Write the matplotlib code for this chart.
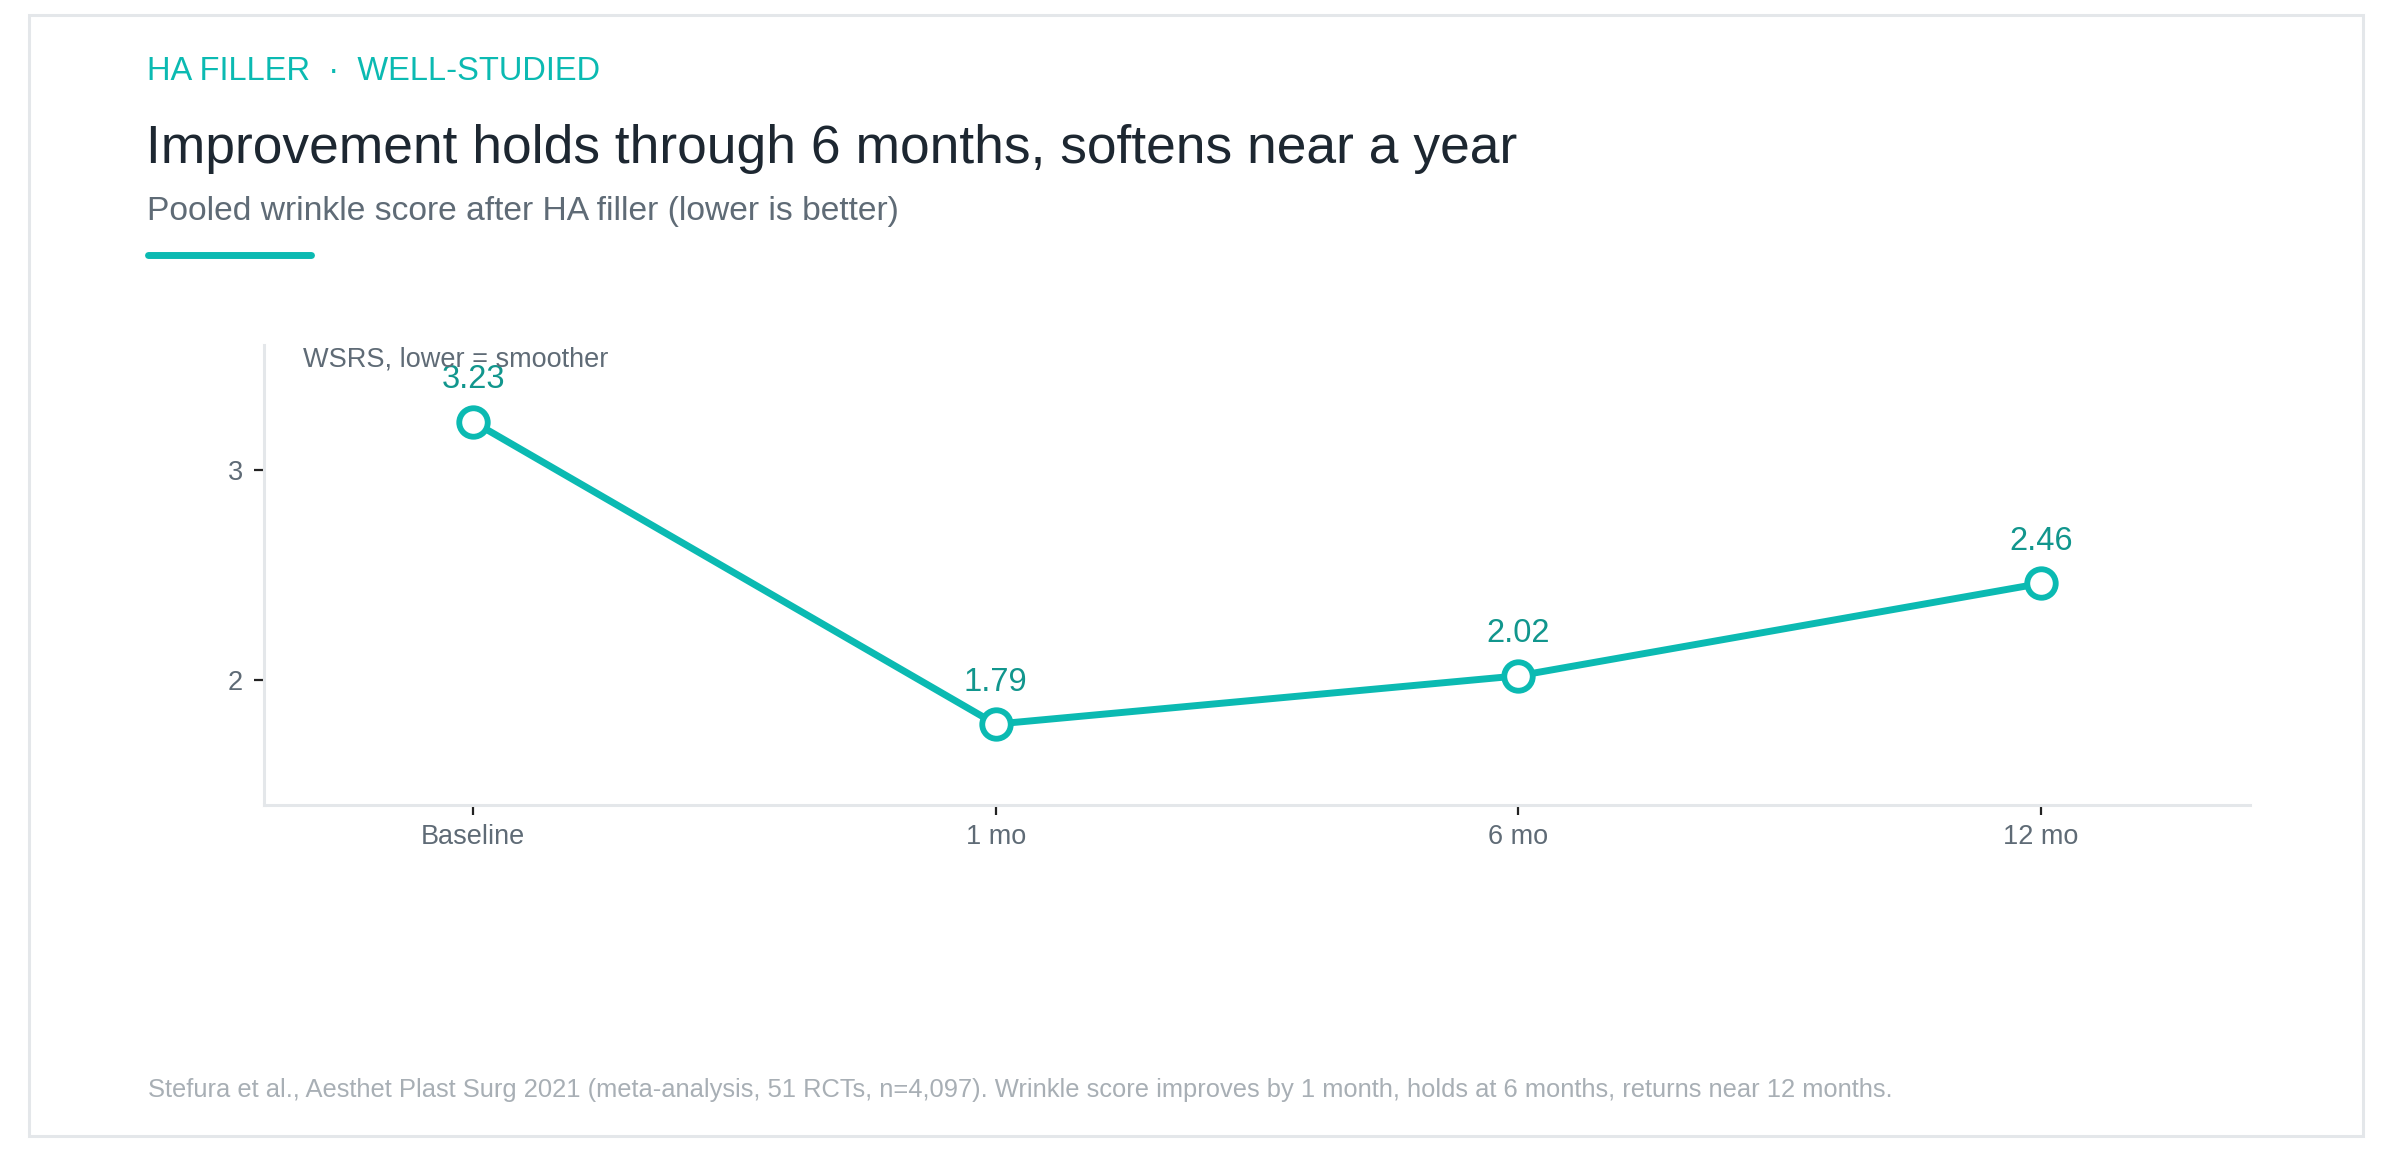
import matplotlib.pyplot as plt
from matplotlib.patches import Rectangle
from matplotlib.lines import Line2D

plt.rcParams['font.family'] = ['Liberation Sans', 'DejaVu Sans']

# data
timepoints = ['Baseline', '1 mo', '6 mo', '12 mo']
wsrs_score = [3.23, 1.79, 2.02, 2.46]
y_ticks = [2, 3]

TEAL = '#0bbab2'
TEAL_DARK = '#11968d'
INK = '#1d2731'
GREY = '#5f6b76'
LIGHT = '#a8afb5'
RULE = '#e4e7ea'

W, H = 2392, 1150
fig = plt.figure(figsize=(W / 100, H / 100), dpi=100)


def fx(px):
    return px / W


def fy(py):
    return 1 - py / H


# card border
fig.patches.append(Rectangle((fx(29), fy(1136)), fx(2363) - fx(29), fy(15) - fy(1136),
                             transform=fig.transFigure, fill=False,
                             edgecolor=RULE, linewidth=2.2))

# header
fig.text(fx(147), fy(80), 'HA FILLER  \u00b7  WELL-STUDIED', color=TEAL, fontsize=23.5,
         va='baseline')
fig.text(fx(146), fy(163), 'Improvement holds through 6 months, softens near a year',
         color=INK, fontsize=38.4, va='baseline')
fig.text(fx(147), fy(220), 'Pooled wrinkle score after HA filler (lower is better)',
         color=GREY, fontsize=24.2, va='baseline')
fig.lines.append(Line2D([fx(148), fx(311)], [fy(255), fy(255)], transform=fig.transFigure,
                        color=TEAL, linewidth=5, solid_capstyle='round'))

# footer
fig.text(fx(148), fy(1097),
         'Stefura et al., Aesthet Plast Surg 2021 (meta-analysis, 51 RCTs, n=4,097). '
         'Wrinkle score improves by 1 month, holds at 6 months, returns near 12 months.',
         color=LIGHT, fontsize=18.4, va='baseline')

# chart
ax = fig.add_axes([fx(264), fy(805), fx(2250) - fx(264), fy(345) - fy(805)])
x = list(range(len(timepoints)))
ax.plot(x, wsrs_score, color=TEAL, linewidth=5, marker='o', markersize=20.5,
        markerfacecolor='white', markeredgecolor=TEAL, markeredgewidth=4.2,
        clip_on=False, zorder=3)
for xi, v in zip(x, wsrs_score):
    ax.annotate(f'{v:.2f}', (xi, v), xytext=(0, 24), textcoords='offset points',
                ha='center', va='baseline', color=TEAL_DARK, fontsize=23.5, zorder=4)

ax.set_xlim(-0.4, 3.4)
ax.set_ylim(1.405, 3.595)
ax.set_xticks(x)
ax.set_xticklabels(timepoints)
ax.set_yticks(y_ticks)
ax.set_yticklabels([str(t) for t in y_ticks])

for side in ['top', 'right']:
    ax.spines[side].set_visible(False)
for side in ['left', 'bottom']:
    ax.spines[side].set_color(RULE)
    ax.spines[side].set_linewidth(2.2)

ax.tick_params(axis='both', colors='#222222', labelcolor=GREY, labelsize=19.5,
               length=7, width=1.6)
ax.tick_params(axis='y', pad=8)
ax.tick_params(axis='x', pad=7)

fig.text(fx(303), fy(367), 'WSRS, lower = smoother', color=GREY, fontsize=19.5,
         va='baseline')

fig.savefig('out.png', dpi=100, facecolor='white')
